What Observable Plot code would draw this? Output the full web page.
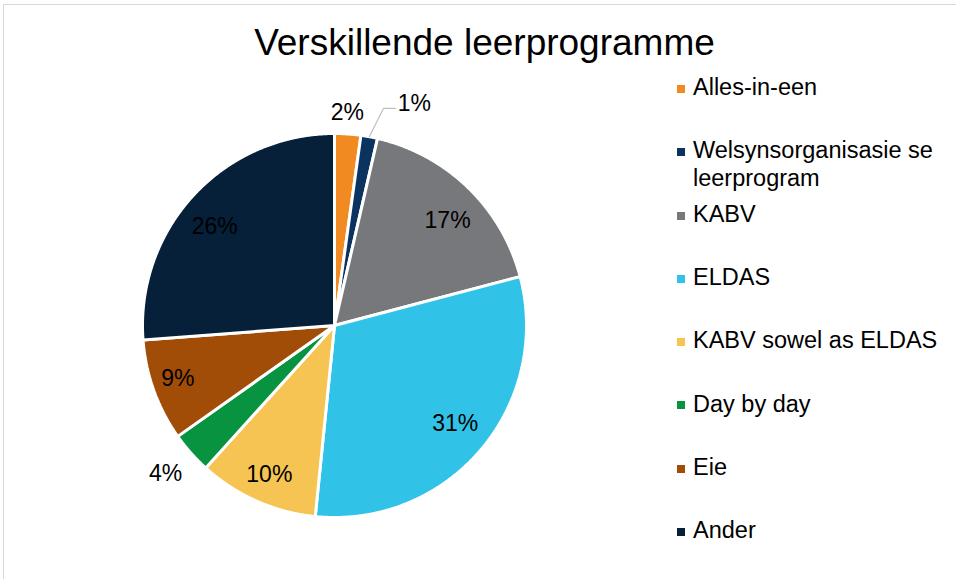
<!DOCTYPE html>
<html>
<head>
<meta charset="utf-8">
<script src="https://cdn.jsdelivr.net/npm/d3@7"></script>
<script src="https://cdn.jsdelivr.net/npm/@observablehq/plot@0.6"></script>
<style>
  html, body { margin: 0; padding: 0; background: #fff; }
  #wrap { position: relative; width: 956px; height: 579px; overflow: hidden; font-family: "Liberation Sans", Arial, sans-serif; }
  #frame { position: absolute; left: 3px; top: 4px; width: 1000px; height: 1000px; border-left: 1px solid #d9d9d9; border-top: 1px solid #d9d9d9; }
  #title { position: absolute; left: 0; width: 969px; top: 24.4px; text-align: center; font-size: 37px; line-height: 1; color: #000; white-space: nowrap; }
  #chart { position: absolute; left: 0; top: 0; }
  .item { position: absolute; left: 677px; font-size: 23.5px; line-height: 27.6px; color: #000; }
  .item .sw { position: absolute; left: 0; top: 10.9px; width: 8px; height: 8px; }
  .item .tx { position: absolute; left: 16px; white-space: nowrap; }
</style>
</head>
<body>
<div id="wrap">
  <div id="frame"></div>
  <div id="chart"></div>
  <div id="title">Verskillende leerprogramme</div>
  <div id="legend"></div>
</div>
<script>
// ---- data ----
const categories = ["Alles-in-een", "Welsynsorganisasie se leerprogram", "KABV", "ELDAS", "KABV sowel as ELDAS", "Day by day", "Eie", "Ander"];
const legendLines = [["Alles-in-een"], ["Welsynsorganisasie se", "leerprogram"], ["KABV"], ["ELDAS"], ["KABV sowel as ELDAS"], ["Day by day"], ["Eie"], ["Ander"]];
const shares = [2.2, 1.4, 17.3, 30.7, 10.1, 3.5, 8.6, 26.2];
const percentLabels = ["2%", "1%", "17%", "31%", "10%", "4%", "9%", "26%"];
const colors = ["#F28A22", "#0B3360", "#77787B", "#31C3E7", "#F5C452", "#07933F", "#A14D07", "#062039"];

// ---- layout parameters ----
const W = 956, H = 579, R = 192, CX = 334, CY = 325;
const labelRadius = [1.11, 1.227, 0.804, 0.811, 0.85, 1.17, 0.861, 0.81];
const labelShiftDeg = [-0.5, 9.4, 3, -1.3, -0.4, 0.3, 1.1, -3.2];

const arcs = d3.pie().sort(null).value(d => d)(shares);

// slice outlines in unit-circle space
const sliceRows = [];
arcs.forEach((a, i) => {
  const name = categories[i];
  sliceRows.push({name, x: 0, y: 0});
  const n = Math.max(2, Math.ceil((a.endAngle - a.startAngle) / 0.004));
  for (let k = 0; k <= n; k++) {
    const t = a.startAngle + (a.endAngle - a.startAngle) * k / n;
    sliceRows.push({name, x: Math.sin(t), y: Math.cos(t)});
  }
});

const labelRows = arcs.map((a, i) => {
  const mid = (a.startAngle + a.endAngle) / 2 + labelShiftDeg[i] * Math.PI / 180;
  return {text: percentLabels[i], x: labelRadius[i] * Math.sin(mid), y: labelRadius[i] * Math.cos(mid)};
});

// leader line for the 1% slice
const wi = 1;
const wMid = (arcs[wi].startAngle + arcs[wi].endAngle) / 2;
const lab = labelRows[wi];
const endPt = {x: lab.x - 19 / R, y: lab.y - 4.5 / R};
const leader = [
  {x: Math.sin(wMid), y: Math.cos(wMid)},
  {x: endPt.x - 12 / R, y: endPt.y},
  endPt
];

const plot = Plot.plot({
  width: W,
  height: H,
  margin: 0,
  style: {fontFamily: "'Liberation Sans', Arial, sans-serif", background: "transparent"},
  x: {type: "linear", domain: [-CX / R, (W - CX) / R], range: [0, W], axis: null},
  y: {type: "linear", domain: [-(H - CY) / R, CY / R], range: [H, 0], axis: null},
  color: {domain: categories, range: colors},
  marks: [
    Plot.line(sliceRows, {x: "x", y: "y", z: "name", fill: "name", stroke: "white", strokeWidth: 3, strokeLinejoin: "miter", curve: "linear-closed"}),
    Plot.line(leader, {x: "x", y: "y", stroke: "#BFBFBF", strokeWidth: 1.2}),
    Plot.text(labelRows, {x: "x", y: "y", text: "text", fontSize: 23, fill: "#000", textAnchor: "middle", lineAnchor: "middle"})
  ]
});
document.getElementById("chart").appendChild(plot);

// legend
const legend = document.getElementById("legend");
legendLines.forEach((lines, i) => {
  const item = document.createElement("div");
  item.className = "item";
  item.style.top = (74.1 + 63.3 * i) + "px";
  const sw = document.createElement("div");
  sw.className = "sw";
  sw.style.background = colors[i];
  const tx = document.createElement("div");
  tx.className = "tx";
  lines.forEach((l, j) => {
    if (j) tx.appendChild(document.createElement("br"));
    tx.appendChild(document.createTextNode(l));
  });
  item.appendChild(sw);
  item.appendChild(tx);
  legend.appendChild(item);
});
</script>
</body>
</html>
